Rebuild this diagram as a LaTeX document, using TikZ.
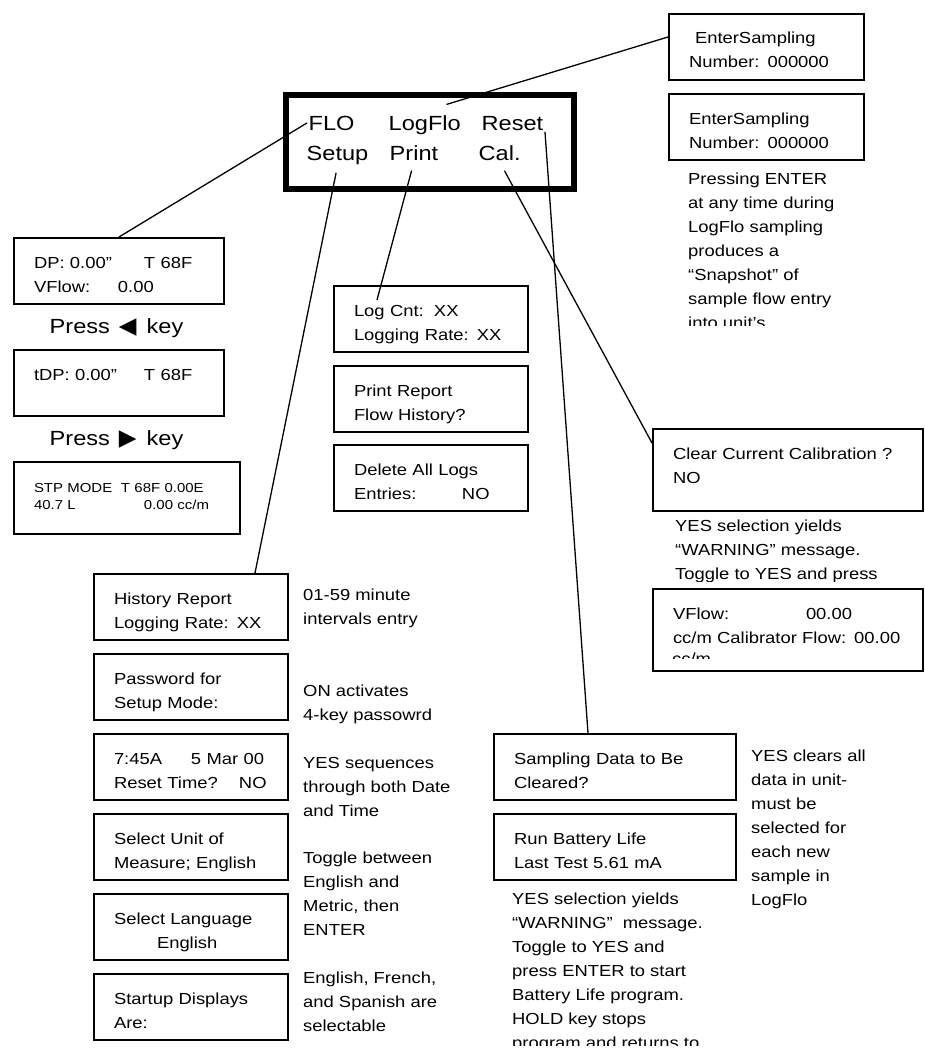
\documentclass[tikz,border=0pt]{standalone}
\usepackage{fontspec}
\setmainfont{Liberation Sans}[FakeStretch=1.15]
\newfontfamily\trifont{DejaVu Sans}
\usetikzlibrary{positioning,calc}

\newcommand{\lcdfont}{\fontsize{16}{24}\selectfont}
\newcommand{\stpfont}{\fontsize{13}{17.5}\selectfont}
\newcommand{\keyfont}{\fontsize{20.5}{24}\selectfont}
\newcommand{\lcdlines}[3][66]{\parbox[c][#1pt][t]{\linewidth}{\raggedright\rule{0pt}{30pt}#2\\#3}}

\begin{document}
\begin{tikzpicture}[x=1pt,y=-1pt,
    lcd/.style={draw,line width=2pt,anchor=north west,inner xsep=20pt,
                inner ysep=0pt,text width=#1pt,font=\lcdfont},
    word/.style={anchor=base west,inner sep=1.5pt,font=\keyfont},
    note/.style={anchor=north west,inner sep=0pt,align=left,font=\lcdfont},
    wire/.style={line width=1.3pt}]
  \useasboundingbox (0,0) rectangle (924,1049);

  % main display
  \node[draw,line width=6pt,minimum width=288pt,minimum height=94pt] (display) at (430,142) {};
  \node[word] (flo)    at (307,130) {FLO};
  \node[word] (logflo) at (387,130) {LogFlo};
  \node[word] (reset)  at (480,130) {Reset};
  \node[word] (setup)  at (305,160) {Setup};
  \node[word] (print)  at (388,160) {Print};
  \node[word] (cal)    at (477,160) {Cal.};

  % FLO screens
  \node[lcd=170] (dp) at (13,237) {\lcdlines{\makebox[110pt][l]{DP: 0.00”}T 68F}{\makebox[84pt][l]{VFlow:}0.00}};
  \node[word] (pressleft) at (48,333) {Press\hspace{9pt}{\trifont\fontsize{23}{23}\selectfont ◀}\hspace{10pt}key};
  \node[lcd=170] (tdp) at (13,349) {\lcdlines{\makebox[110pt][l]{tDP: 0.00”}T 68F}{}};
  \node[word] (pressright) at (48,445) {Press\hspace{9pt}{\trifont\fontsize{23}{23}\selectfont ▶}\hspace{10pt}key};
  \node[lcd=186,font=\stpfont] (stp) at (13,461) {\lcdlines[72]{\makebox[87pt][l]{STP MODE}T 68F 0.00E}{\makebox[110pt][l]{40.7 L}0.00 cc/m}};

  % LogFlo screens
  \node[lcd=155] (enter1) at (668,13) {\lcdlines{\hspace*{6pt}EnterSampling}{Number: 000000}};
  \node[lcd=155,below=12pt of enter1] (enter2) {\lcdlines{EnterSampling}{Number: 000000}};
  \begin{scope}
    \clip (680,160) rectangle (910,325);
    \node[note] (snapnote) at (688,173) {Pressing ENTER\\at any time during\\LogFlo sampling\\produces a\\“Snapshot” of\\sample flow entry\\into unit’s};
  \end{scope}

  % Print screens
  \node[lcd=154] (logcnt) at (333,285) {\lcdlines{\makebox[80pt][l]{Log Cnt:}XX}{Logging Rate: XX}};
  \node[lcd=154,below=12pt of logcnt] (report) {\lcdlines{Print Report}{Flow History?}};
  \node[lcd=154,below=11pt of report] (deletelogs) {\lcdlines{Delete All Logs}{\makebox[108pt][l]{Entries:}NO}};

  % Cal. screens
  \node[lcd=230] (clear) at (652,428) {\lcdlines[82]{Clear Current Calibration ?}{NO}};
  \begin{scope}
    \clip (665,510) rectangle (922,581);
    \node[note] (clearnote) at (675,520) {YES selection yields\\“WARNING” message.\\Toggle to YES and press};
  \end{scope}
  \node[lcd=230] (vflow) at (652,588) {\lcdlines[82]{\makebox[133pt][l]{VFlow:}00.00}{cc/m Calibrator Flow: 00.00}};
  \begin{scope}
    \clip (665,640) rectangle (920,658);
    \node[note] (vflowunit) at (672,653) {cc/m};
  \end{scope}

  % Setup screens
  \node[lcd=154] (history) at (93,573) {\lcdlines{History Report}{Logging Rate: XX}};
  \node[lcd=154,below=12pt of history] (password) {\lcdlines{Password for}{Setup Mode:}};
  \node[lcd=154,below=12pt of password] (clock) {\lcdlines{\makebox[77pt][l]{7:45A}5 Mar 00}{\makebox[125pt][l]{Reset Time?}NO}};
  \node[lcd=154,below=12pt of clock] (units) {\lcdlines{Select Unit of}{Measure; English}};
  \node[lcd=154,below=12pt of units] (language) {\lcdlines{Select Language}{\hspace*{43pt}English}};
  \node[lcd=154,below=12pt of language] (startup) {\lcdlines{Startup Displays}{Are:}};

  \node[note] (ratenote)  at (303,589) {01-59 minute\\intervals entry};
  \node[note] (passnote)  at (303,685) {ON activates\\4-key passowrd};
  \node[note] (clocknote) at (303,757) {YES sequences\\through both Date\\and Time};
  \node[note] (unitnote)  at (303,852) {Toggle between\\English and\\Metric, then\\ENTER};
  \node[note] (langnote)  at (303,972) {English, French,\\and Spanish are\\selectable};

  % Reset screens
  \node[lcd=202] (sampling) at (493,733) {\lcdlines{Sampling Data to Be}{Cleared?}};
  \node[lcd=202,below=12pt of sampling] (battery) {\lcdlines{Run Battery Life}{Last Test 5.61 mA}};
  \node[note] (clearsnote) at (751,750) {YES clears all\\data in unit-\\must be\\selected for\\each new\\sample in\\LogFlo};
  \begin{scope}
    \clip (500,880) rectangle (760,1045);
    \node[note] (batterynote) at (512,893) {YES selection yields\\“WARNING”\ \ message.\\Toggle to YES and\\press ENTER to start\\Battery Life program.\\HOLD key stops\\program and returns to};
  \end{scope}

  % key to screen connectors
  \draw[wire] (flo.west) -- (dp.north);
  \draw[wire] ($(logflo.north east)+(-16,-9)$) -- ($(enter1.north west)+(0,24)$);
  \draw[wire] (reset.south east) -- ($(sampling.north west)+(95,0)$);
  \draw[wire,shorten <=7pt] (setup.south) -- ($(history.north west)+(162,0)$);
  \draw[wire,shorten <=9pt] (print.south) -- ($(logcnt.north west)+(44,15)$);
  \draw[wire,shorten <=10pt] (cal.south) -- ($(clear.north west)+(0,15)$);
\end{tikzpicture}
\end{document}
